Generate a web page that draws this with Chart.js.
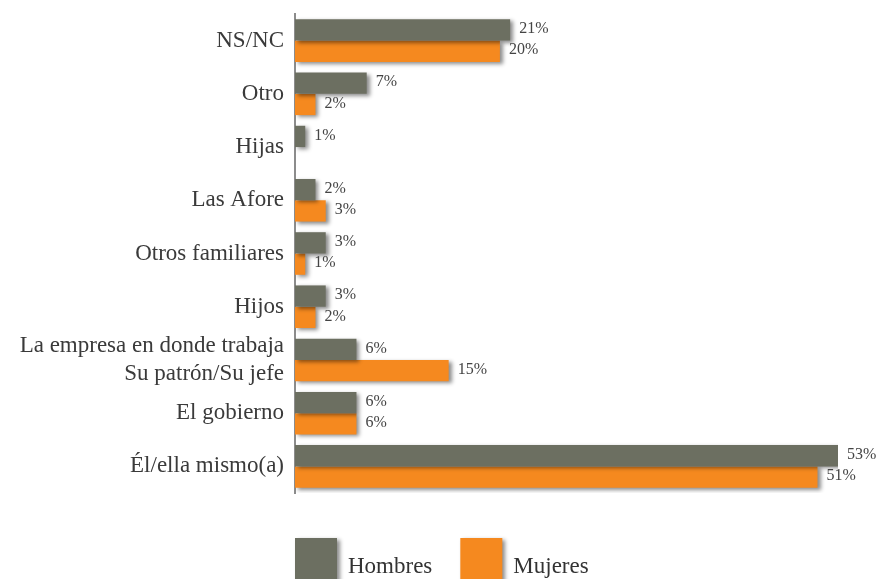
<!DOCTYPE html>
<html lang="es">
<head>
<meta charset="utf-8">
<title>¿Quién debe hacerse cargo?</title>
<script src="https://cdn.jsdelivr.net/npm/chart.js@4.4.1/dist/chart.umd.min.js"></script>
<style>
  html, body { margin: 0; padding: 0; background: #ffffff; }
  #wrap { width: 882px; height: 579px; position: relative; }
</style>
</head>
<body>
<div id="wrap"><canvas id="barChart" width="882" height="579"></canvas></div>
<script>
var categorias = [
  'NS/NC',
  'Otro',
  'Hijas',
  'Las Afore',
  'Otros familiares',
  'Hijos',
  ['La empresa en donde trabaja', 'Su patrón/Su jefe'],
  'El gobierno',
  'Él/ella mismo(a)'
];
var hombres = [21, 7, 1, 2, 3, 3, 6, 6, 53];
var mujeres = [20, 2, null, 3, 1, 2, 15, 6, 51];

var colorHombres = '#6c6f61';
var colorMujeres = '#f5891f';
var fuente = "'Liberation Serif', 'DejaVu Serif', serif";

// sombra suave detras de las barras
var sombraBarras = {
  id: 'sombraBarras',
  beforeDatasetsDraw: function(chart) {
    var ctx = chart.ctx;
    ctx.save();
    ctx.shadowColor = 'rgba(0,0,0,0.45)';
    ctx.shadowBlur = 4;
    ctx.shadowOffsetX = 3;
    ctx.shadowOffsetY = 2;
  },
  afterDatasetsDraw: function(chart) {
    chart.ctx.restore();
  }
};

// porcentaje al final de cada barra
var etiquetasValor = {
  id: 'etiquetasValor',
  afterDatasetsDraw: function(chart) {
    var ctx = chart.ctx;
    ctx.save();
    ctx.font = '16px ' + fuente;
    ctx.fillStyle = '#444444';
    ctx.textAlign = 'left';
    ctx.textBaseline = 'middle';
    chart.data.datasets.forEach(function(ds, i) {
      var meta = chart.getDatasetMeta(i);
      meta.data.forEach(function(bar, j) {
        var v = ds.data[j];
        if (v === null || v === undefined) return;
        ctx.fillText(v + '%', bar.x + 9, bar.y - 1);
      });
    });
    ctx.restore();
  }
};

// leyenda con cuadros grandes debajo del eje
var leyenda = {
  id: 'leyenda',
  afterDraw: function(chart) {
    var ctx = chart.ctx;
    var x = chart.chartArea.left;
    var y = 538;
    ctx.save();
    ctx.font = '23px ' + fuente;
    ctx.textBaseline = 'alphabetic';
    chart.data.datasets.forEach(function(ds) {
      ctx.save();
      ctx.shadowColor = 'rgba(0,0,0,0.45)';
      ctx.shadowBlur = 4;
      ctx.shadowOffsetX = 3;
      ctx.shadowOffsetY = 2;
      ctx.fillStyle = ds.backgroundColor;
      ctx.fillRect(x, y, 42, 50);
      ctx.restore();
      ctx.fillStyle = '#333333';
      ctx.fillText(ds.label, x + 53, 573);
      x = x + 53 + ctx.measureText(ds.label).width + 28;
    });
    ctx.restore();
  }
};

var ctx = document.getElementById('barChart').getContext('2d');
var barChart = new Chart(ctx, {
  type: 'bar',
  data: {
    labels: categorias,
    datasets: [{
      label: 'Hombres',
      data: hombres,
      backgroundColor: colorHombres,
      barPercentage: 1.0,
      categoryPercentage: 0.8
    }, {
      label: 'Mujeres',
      data: mujeres,
      backgroundColor: colorMujeres,
      barPercentage: 1.0,
      categoryPercentage: 0.8
    }]
  },
  options: {
    indexAxis: 'y',
    responsive: false,
    animation: false,
    layout: {
      padding: { top: 14, bottom: 86, right: 44, left: 0 }
    },
    plugins: {
      legend: { display: false },
      tooltip: { enabled: false }
    },
    scales: {
      x: {
        display: false,
        min: 0,
        max: 53
      },
      y: {
        grid: { display: false, drawTicks: false },
        border: { display: true, color: '#8c8c8c', width: 2 },
        ticks: {
          autoSkip: false,
          color: '#3a3a3a',
          padding: 11,
          font: { family: fuente, size: 23 }
        },
        afterFit: function(scale) {
          scale.width = 295;
          scale.paddingTop = 0;
          scale.paddingBottom = 0;
        }
      }
    }
  },
  plugins: [sombraBarras, etiquetasValor, leyenda]
});
</script>
</body>
</html>
